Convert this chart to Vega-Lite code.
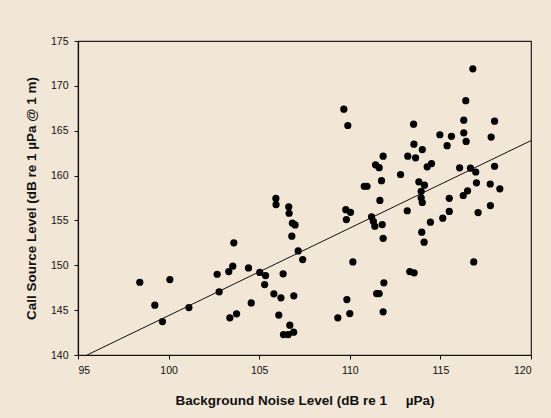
{
  "$schema": "https://vega.github.io/schema/vega-lite/v6.json",
  "width": 453,
  "height": 314,
  "autosize": {"type": "none"},
  "padding": {"left": 78, "top": 41, "right": 20, "bottom": 63},
  "background": "#F2E6D6",
  "config": {
    "view": {"stroke": "#222222", "strokeWidth": 1.2, "fill": "#F2E6D6"},
    "axis": {
      "grid": false,
      "domainColor": "#111111",
      "domainWidth": 1.2,
      "tickColor": "#111111",
      "tickSize": 4,
      "labelFont": "Liberation Sans",
      "labelFontSize": 10.5,
      "labelColor": "#111111",
      "titleFont": "Liberation Sans",
      "titleFontSize": 13.5,
      "titleFontWeight": "bold",
      "titleColor": "#111111"
    }
  },
  "layer": [
    {
      "data": {"values": [
        {"noise": 98.41, "level": 148.11},
        {"noise": 99.24, "level": 145.55},
        {"noise": 99.66, "level": 143.73},
        {"noise": 100.07, "level": 148.41},
        {"noise": 101.12, "level": 145.29},
        {"noise": 102.68, "level": 149.0},
        {"noise": 102.79, "level": 147.04},
        {"noise": 103.32, "level": 149.3},
        {"noise": 103.38, "level": 144.14},
        {"noise": 103.54, "level": 149.9},
        {"noise": 103.6, "level": 152.5},
        {"noise": 103.75, "level": 144.59},
        {"noise": 104.41, "level": 149.7},
        {"noise": 104.56, "level": 145.8},
        {"noise": 105.03, "level": 149.2},
        {"noise": 105.35, "level": 148.85},
        {"noise": 105.3, "level": 147.85},
        {"noise": 105.81, "level": 146.82},
        {"noise": 105.92, "level": 157.45},
        {"noise": 105.93, "level": 156.77},
        {"noise": 106.08, "level": 144.45},
        {"noise": 106.2, "level": 146.37},
        {"noise": 106.32, "level": 149.05},
        {"noise": 106.34, "level": 142.28},
        {"noise": 106.6, "level": 142.28},
        {"noise": 106.69, "level": 143.32},
        {"noise": 106.9, "level": 142.54},
        {"noise": 106.63, "level": 156.52},
        {"noise": 106.65, "level": 155.8},
        {"noise": 106.83, "level": 154.7},
        {"noise": 106.98, "level": 154.5},
        {"noise": 106.8, "level": 153.24},
        {"noise": 106.91, "level": 146.6},
        {"noise": 107.15, "level": 151.6},
        {"noise": 107.4, "level": 150.64},
        {"noise": 109.34, "level": 144.14},
        {"noise": 109.67, "level": 167.4},
        {"noise": 109.89, "level": 165.58},
        {"noise": 109.78, "level": 156.2},
        {"noise": 110.04, "level": 155.9},
        {"noise": 109.81, "level": 155.1},
        {"noise": 109.84, "level": 146.18},
        {"noise": 110.0, "level": 144.62},
        {"noise": 110.17, "level": 150.38},
        {"noise": 110.8, "level": 158.81},
        {"noise": 110.95, "level": 158.81},
        {"noise": 111.2, "level": 155.4},
        {"noise": 111.3, "level": 154.9},
        {"noise": 111.38, "level": 154.35},
        {"noise": 111.79, "level": 154.54},
        {"noise": 111.84, "level": 153.0},
        {"noise": 111.42, "level": 161.2},
        {"noise": 111.62, "level": 160.88},
        {"noise": 111.75, "level": 159.43},
        {"noise": 111.66, "level": 157.23},
        {"noise": 111.84, "level": 162.16},
        {"noise": 111.48, "level": 146.85},
        {"noise": 111.62, "level": 146.85},
        {"noise": 111.88, "level": 148.04},
        {"noise": 111.84, "level": 144.81},
        {"noise": 112.8, "level": 160.12},
        {"noise": 113.2, "level": 162.16},
        {"noise": 113.63, "level": 161.98},
        {"noise": 113.17, "level": 156.08},
        {"noise": 113.31, "level": 149.3},
        {"noise": 113.55, "level": 149.16},
        {"noise": 113.52, "level": 165.73},
        {"noise": 113.54, "level": 163.5},
        {"noise": 114.0, "level": 162.9},
        {"noise": 114.51, "level": 161.34},
        {"noise": 114.27, "level": 160.97},
        {"noise": 113.81, "level": 159.3},
        {"noise": 114.12, "level": 158.93},
        {"noise": 113.94, "level": 158.25},
        {"noise": 113.94, "level": 157.52},
        {"noise": 114.0, "level": 157.0},
        {"noise": 113.97, "level": 153.69},
        {"noise": 114.1, "level": 152.57},
        {"noise": 114.45, "level": 154.8},
        {"noise": 114.97, "level": 164.55},
        {"noise": 115.13, "level": 155.25},
        {"noise": 115.37, "level": 163.33},
        {"noise": 115.61, "level": 164.37},
        {"noise": 115.49, "level": 157.47},
        {"noise": 115.49, "level": 156.0},
        {"noise": 116.06, "level": 160.86},
        {"noise": 116.29, "level": 166.17},
        {"noise": 116.29, "level": 164.77},
        {"noise": 116.4, "level": 168.35},
        {"noise": 116.42, "level": 163.8},
        {"noise": 116.26, "level": 157.78},
        {"noise": 116.5, "level": 158.3},
        {"noise": 116.66, "level": 160.83},
        {"noise": 116.79, "level": 171.9},
        {"noise": 116.95, "level": 160.4},
        {"noise": 116.99, "level": 159.19},
        {"noise": 117.08, "level": 155.88},
        {"noise": 116.84, "level": 150.38},
        {"noise": 117.76, "level": 156.66},
        {"noise": 117.75, "level": 159.06},
        {"noise": 117.8, "level": 164.29},
        {"noise": 117.99, "level": 166.06},
        {"noise": 117.99, "level": 161.04},
        {"noise": 118.28, "level": 158.52}
      ]},
      "mark": {"type": "circle", "size": 52, "color": "#000000", "opacity": 1},
      "encoding": {
        "x": {
          "field": "noise", "type": "quantitative",
          "scale": {"domain": [95, 120], "nice": false, "zero": false},
          "axis": {"values": [95, 100, 105, 110, 115, 120], "title": "Background Noise Level (dB re 1\u00a0\u00a0\u00a0\u00a0\u00a0µPa)", "labelPadding": 6, "titlePadding": 18}
        },
        "y": {
          "field": "level", "type": "quantitative",
          "scale": {"domain": [140, 175], "nice": false, "zero": false},
          "axis": {"values": [140, 145, 150, 155, 160, 165, 170, 175], "title": "Call Source Level (dB re 1 µPa @ 1 m)", "labelPadding": 6, "titlePadding": 12}
        }
      }
    },
    {
      "data": {"values": [
        {"noise": 95.5, "level": 140},
        {"noise": 120, "level": 163.9}
      ]},
      "mark": {"type": "line", "color": "#111111", "strokeWidth": 1},
      "encoding": {
        "x": {"field": "noise", "type": "quantitative"},
        "y": {"field": "level", "type": "quantitative"}
      }
    }
  ]
}
